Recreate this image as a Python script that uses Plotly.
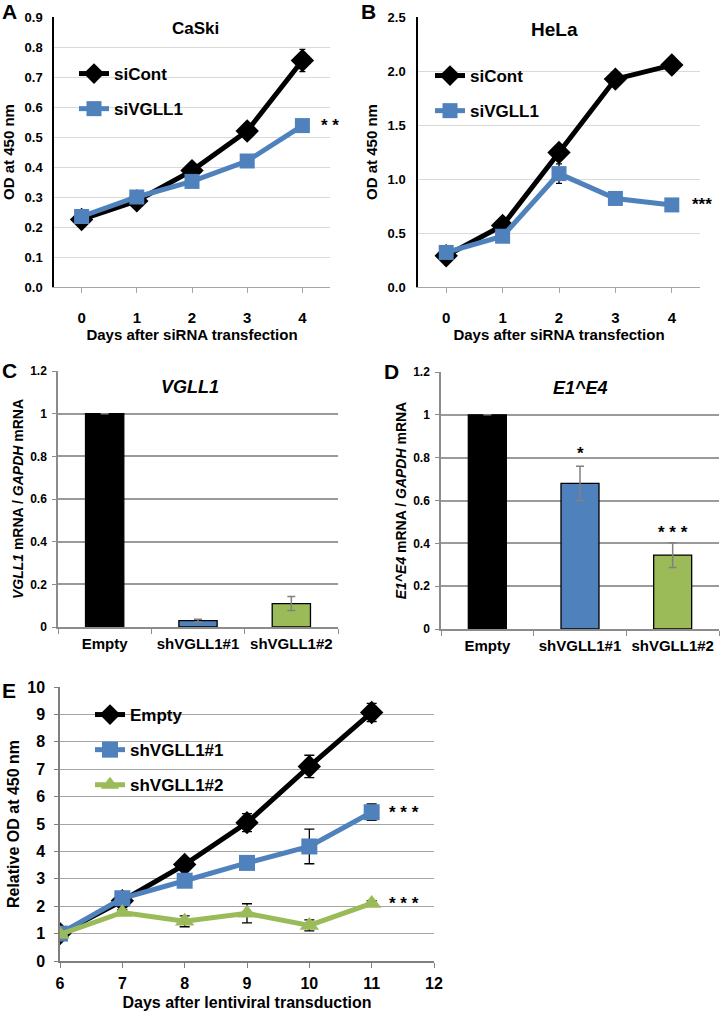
import plotly.graph_objects as go

W, H = 720, 1013
FONT = "Liberation Sans"

# ---------------- data ----------------
days_si = [0, 1, 2, 3, 4]
caski_sicont = [0.225, 0.287, 0.388, 0.520, 0.755]
caski_sicont_err = [0.008, 0.008, 0.010, 0.025, 0.037]
caski_sivgll1 = [0.235, 0.300, 0.352, 0.420, 0.538]
caski_sivgll1_err = [0.008, 0.008, 0.008, 0.008, 0.008]

hela_sicont = [0.29, 0.57, 1.245, 1.925, 2.055]
hela_sicont_err = [0.02, 0.02, 0.03, 0.07, 0.02]
hela_sivgll1 = [0.32, 0.47, 1.05, 0.82, 0.76]
hela_sivgll1_err = [0.02, 0.02, 0.09, 0.03, 0.03]

groups = ["Empty", "shVGLL1#1", "shVGLL1#2"]
bar_colors = ["#000000", "#4F81BD", "#9BBB59"]
vgll1_mrna = [1.0, 0.03, 0.11]
vgll1_mrna_err = [0.0, 0.006, 0.033]
e1e4_mrna = [1.0, 0.68, 0.345]
e1e4_mrna_err = [0.0, 0.08, 0.058]

days_lenti = [6, 7, 8, 9, 10, 11]
od_empty = [1.0, 2.2, 3.52, 5.05, 7.1, 9.07]
od_empty_err = [0.05, 0.1, 0.12, 0.33, 0.41, 0.33]
od_sh1 = [1.0, 2.29, 2.93, 3.58, 4.18, 5.43]
od_sh1_err = [0.05, 0.1, 0.1, 0.1, 0.63, 0.3]
od_sh2 = [0.97, 1.77, 1.45, 1.74, 1.3, 2.1]
od_sh2_err = [0.05, 0.1, 0.2, 0.35, 0.2, 0.1]

BLACK = "#000000"
BLUE = "#4F81BD"
GREEN = "#9BBB59"


def px_x(a, b):
    return [a / W, b / W]


def px_y(top, bottom):
    return [1 - bottom / H, 1 - top / H]


fig = go.Figure()


def line_trace(x, y, err, name, color, symbol, size, xa, ya, legend, errw=3, lw=5):
    return go.Scatter(
        x=x, y=y, name=name, mode="lines+markers",
        line=dict(color=color, width=lw),
        marker=dict(color=color, symbol=symbol, size=size, line=dict(width=0)),
        error_y=dict(type="data", array=err, color=BLACK, thickness=1.3, width=errw),
        xaxis=xa, yaxis=ya, legend=legend, legendgroup=name + legend,
    )


# Panel A
fig.add_trace(line_trace(days_si, caski_sicont, caski_sicont_err, "siCont", BLACK, "diamond", 18, "x", "y", "legend"))
fig.add_trace(line_trace(days_si, caski_sivgll1, caski_sivgll1_err, "siVGLL1", BLUE, "square", 15, "x", "y", "legend"))
# Panel B
fig.add_trace(line_trace(days_si, hela_sicont, hela_sicont_err, "siCont", BLACK, "diamond", 18, "x2", "y2", "legend2"))
fig.add_trace(line_trace(days_si, hela_sivgll1, hela_sivgll1_err, "siVGLL1", BLUE, "square", 15, "x2", "y2", "legend2"))

# Panel C, D bars
for vals, errs, xa, ya in [(vgll1_mrna, vgll1_mrna_err, "x3", "y3"), (e1e4_mrna, e1e4_mrna_err, "x4", "y4")]:
    fig.add_trace(go.Bar(
        x=groups, y=vals, width=0.41,
        marker=dict(color=bar_colors, line=dict(color="#000000", width=1.3)),
        error_y=dict(type="data", array=errs, color="#808080", thickness=1.5, width=4),
        xaxis=xa, yaxis=ya, showlegend=False,
    ))

# Panel E
fig.add_trace(line_trace(days_lenti, od_empty, od_empty_err, "Empty", BLACK, "diamond", 18, "x5", "y5", "legend3", errw=5))
fig.add_trace(line_trace(days_lenti, od_sh1, od_sh1_err, "shVGLL1#1", BLUE, "square", 16, "x5", "y5", "legend3", errw=5))
fig.add_trace(line_trace(days_lenti, od_sh2, od_sh2_err, "shVGLL1#2", GREEN, "triangle-up", 17, "x5", "y5", "legend3", errw=5))

bold = dict(family=FONT, color="#000000", weight="bold")

common_line_x = dict(showline=True, linecolor="#a6a6a6", linewidth=1.3, ticks="outside",
                     tickcolor="#a6a6a6", ticklen=5, showgrid=False, zeroline=False, automargin=False)

layout = dict(
    template="none",
    width=W, height=H, margin=dict(l=0, r=0, t=0, b=0, pad=0, autoexpand=False),
    paper_bgcolor="white", plot_bgcolor="white", showlegend=True,
    font=dict(family=FONT, color="#000000"),
    # A
    xaxis=dict(domain=px_x(54, 330), range=[-0.5, 4.5], tickvals=days_si, anchor="y",
               tickfont=dict(size=15, **bold), ticklabelstandoff=12, tickangle=0,
               title=dict(text="Days after siRNA transfection", font=dict(size=15, **bold), standoff=0),
               **common_line_x),
    yaxis=dict(domain=px_y(17, 287), range=[0, 0.9], dtick=0.1, tickformat=".1f", anchor="x",
               showline=True, linecolor="#000000", linewidth=1.5, showgrid=True, gridcolor="#d9d9d9",
               gridwidth=1.2, zeroline=False, ticks="", ticklabelstandoff=7, automargin=False,
               tickfont=dict(size=13, **bold),
               title=dict(text="OD at 450 nm", font=dict(size=15, **bold), standoff=6)),
    # B
    xaxis2=dict(domain=px_x(418, 700), range=[-0.5, 4.5], tickvals=days_si, anchor="y2",
                tickfont=dict(size=15, **bold), ticklabelstandoff=12, tickangle=0,
                title=dict(text="Days after siRNA transfection", font=dict(size=15, **bold), standoff=0),
                **common_line_x),
    yaxis2=dict(domain=px_y(17, 287), range=[0, 2.5], dtick=0.5, tickformat=".1f", anchor="x2",
                showline=True, linecolor="#000000", linewidth=1.5, showgrid=True, gridcolor="#d9d9d9",
                gridwidth=1.2, zeroline=False, ticks="", ticklabelstandoff=8, automargin=False,
                tickfont=dict(size=13, **bold),
                title=dict(text="OD at 450 nm", font=dict(size=15, **bold), standoff=6)),
    # C
    xaxis3=dict(domain=px_x(58, 338), type="category", anchor="y3", tickson="boundaries", tickangle=0,
                showline=True, linecolor="#8c8c8c", linewidth=1.5, ticks="outside", tickcolor="#8c8c8c",
                ticklen=5, showgrid=False, tickfont=dict(size=15, **bold), ticklabelstandoff=2,
                automargin=False),
    yaxis3=dict(domain=px_y(371, 627), range=[0, 1.2], dtick=0.2, anchor="x3",
                showline=True, linecolor="#8c8c8c", linewidth=1.5, showgrid=True, gridcolor="#9a9a9a",
                gridwidth=1.5, zeroline=False, ticks="outside", tickcolor="#8c8c8c", ticklen=4,
                ticklabelstandoff=3, tickfont=dict(size=12, **bold), automargin=False,
                title=dict(text="<i>VGLL1</i> mRNA / <i>GAPDH</i> mRNA", font=dict(size=14, **bold), standoff=3)),
    # D
    xaxis4=dict(domain=px_x(441, 719), type="category", anchor="y4", tickson="boundaries", tickangle=0,
                showline=True, linecolor="#8c8c8c", linewidth=1.5, ticks="outside", tickcolor="#8c8c8c",
                ticklen=5, showgrid=False, tickfont=dict(size=15, **bold), ticklabelstandoff=2,
                automargin=False),
    yaxis4=dict(domain=px_y(372, 629), range=[0, 1.2], dtick=0.2, anchor="x4",
                showline=True, linecolor="#8c8c8c", linewidth=1.5, showgrid=True, gridcolor="#9a9a9a",
                gridwidth=1.5, zeroline=False, ticks="outside", tickcolor="#8c8c8c", ticklen=4,
                ticklabelstandoff=3, tickfont=dict(size=12, **bold), automargin=False,
                title=dict(text="<i>E1^E4</i> mRNA / <i>GAPDH</i> mRNA", font=dict(size=14, **bold), standoff=3)),
    # E
    xaxis5=dict(domain=px_x(60, 434), range=[6, 12], dtick=1, anchor="y5", tickangle=0,
                showline=True, linecolor="#7f7f7f", linewidth=1.5, ticks="outside", tickcolor="#7f7f7f",
                ticklen=5, showgrid=False, zeroline=False, tickfont=dict(size=16, **bold), ticklabelstandoff=2,
                automargin=False,
                title=dict(text="Days after lentiviral transduction", font=dict(size=16, **bold), standoff=6)),
    yaxis5=dict(domain=px_y(687, 961), range=[0, 10], dtick=1, anchor="x5",
                showline=True, linecolor="#7f7f7f", linewidth=1.5, showgrid=True, gridcolor="#a6a6a6",
                gridwidth=1.3, zeroline=False, ticks="outside", tickcolor="#7f7f7f", ticklen=4,
                ticklabelstandoff=6, tickfont=dict(size=16, **bold), automargin=False,
                title=dict(text="Relative OD at 450 nm", font=dict(size=16, **bold), standoff=4)),
    legend=dict(x=74 / W, y=1 - 56 / H, xanchor="left", yanchor="top", bgcolor="rgba(0,0,0,0)",
                font=dict(size=17, **bold), traceorder="grouped", tracegroupgap=10),
    legend2=dict(x=430 / W, y=1 - 58 / H, xanchor="left", yanchor="top", bgcolor="rgba(0,0,0,0)",
                 font=dict(size=17, **bold), traceorder="grouped", tracegroupgap=10),
    legend3=dict(x=90 / W, y=1 - 697 / H, xanchor="left", yanchor="top", bgcolor="rgba(0,0,0,0)",
                 font=dict(size=17, **bold), traceorder="grouped", tracegroupgap=10),
)
fig.update_layout(**layout)

ann = []


def paper_text(text, x, y, size, italic=False):
    t = f"<i>{text}</i>" if italic else text
    ann.append(dict(text=t, x=x / W, y=1 - y / H, xref="paper", yref="paper", showarrow=False,
                    xanchor="center", yanchor="middle", font=dict(size=size, **bold)))


# panel letters
paper_text("A", 9, 12, 21)
paper_text("B", 368, 12, 21)
paper_text("C", 9, 370, 21)
paper_text("D", 392, 371, 21)
paper_text("E", 9, 690, 21)
# titles
paper_text("CaSki", 196, 29, 17)
paper_text("HeLa", 554, 30, 19)
paper_text("VGLL1", 190, 387, 18, italic=True)
paper_text("E1^E4", 580, 388, 18, italic=True)


def star(text, x, y, xa, ya, anchor="left", size=17):
    ann.append(dict(text=text, x=x, y=y, xref=xa, yref=ya, showarrow=False, xanchor=anchor,
                    yanchor="middle", font=dict(size=size, **bold)))


star("* *", 4.3, caski_sivgll1[-1], "x", "y")
star("***", 4.33, hela_sivgll1[-1], "x2", "y2")
star("*", groups[1], 0.82, "x4", "y4", anchor="center")
star("* * *", groups[2], 0.45, "x4", "y4", anchor="center")
star("* * *", 11.25, od_sh1[-1], "x5", "y5")
star("* * *", 11.25, od_sh2[-1], "x5", "y5")

fig.update_layout(annotations=ann)
fig.write_html("out.html", config={"displayModeBar": False},
               post_script="document.body.style.margin='0px';document.body.style.overflow='hidden';")
